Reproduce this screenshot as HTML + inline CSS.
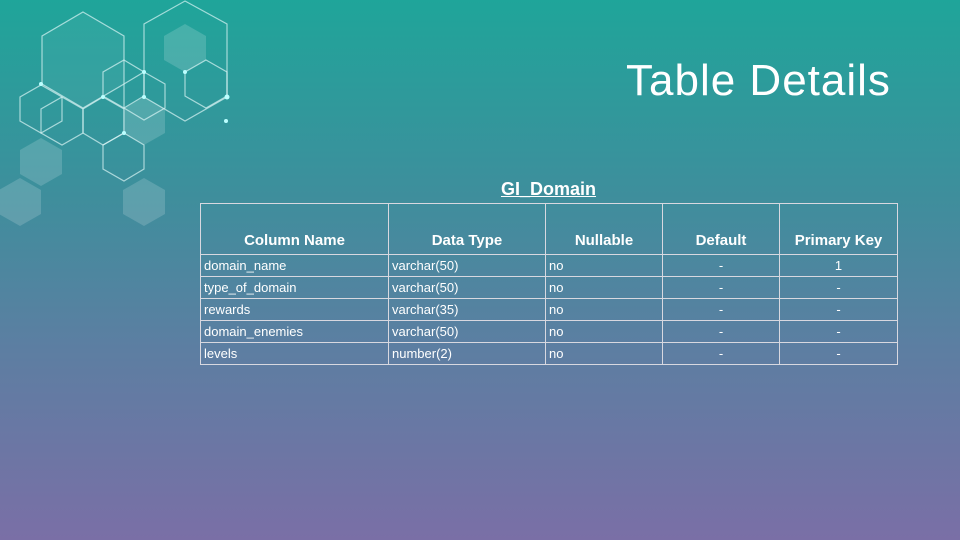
<!DOCTYPE html>
<html><head><style>
body{margin:0;width:960px;height:540px;overflow:hidden;font-family:"Liberation Sans",sans-serif;}
.bg{position:absolute;inset:0;background:linear-gradient(180deg,#1fa59a 0%,#3d8f9c 35%,#5d7ea2 65%,#7a6fa6 100%);}
h1{position:absolute;left:626px;top:56px;margin:0;font-weight:normal;font-size:44px;color:#fff;letter-spacing:1px;}
.cap{position:absolute;left:200px;width:697px;top:179px;text-align:center;color:#fff;font-weight:bold;font-size:18px;text-decoration:underline;}
table{position:absolute;left:200px;top:203px;border-collapse:collapse;color:#fff;font-size:13px;}
td,th{border:1px solid #d8d8e0;padding:0 3px;height:21px;line-height:21px;}
th{height:51px;vertical-align:bottom;font-size:15px;padding:0 3px 4px;line-height:18px;box-sizing:border-box}
td.c{text-align:center}
</style></head><body>
<div class="bg"></div>
<svg width="260" height="230" style="position:absolute;left:0;top:0">
<g fill="rgba(255,255,255,0.16)" stroke="none">
<polygon points="41,138 62,150 62,174 41,186 20,174 20,150"/>
<polygon points="20,178 41,190 41,214 20,226 -1,214 -1,190"/>
<polygon points="144,178 165,190 165,214 144,226 123,214 123,190"/>
<polygon points="144,97 165,109 165,133 144,145 123,133 123,109"/>
<polygon points="185,24 206,36 206,60 185,72 164,60 164,36"/>
<polygon points="83,12 124,36 124,84 83,108 42,84 42,36" fill="rgba(255,255,255,0.05)"/>
</g>
<g fill="none" stroke="rgba(220,245,245,0.7)" stroke-width="1.2">
<polygon points="83,12 124,36 124,84 83,108 42,84 42,36"/>
<polygon points="185,1 227,24 227,97 185,121 144,97 144,24"/>
<polygon points="41,85 62,97 62,121 41,133 20,121 20,97"/>
<polygon points="62,97 83,109 83,133 62,145 41,133 41,109"/>
<polygon points="103,97 124,109 124,133 103,145 83,133 83,109"/>
<polygon points="124,60 144,72 144,96 124,108 103,96 103,72"/>
<polygon points="206,60 227,72 227,96 206,108 185,96 185,72"/>
<polygon points="124,133 144,145 144,169 124,181 103,169 103,145"/>
<polygon points="144,72 165,84 165,108 144,120 124,108 124,84"/>
</g>
<g fill="#bff">
<circle cx="41" cy="84" r="2"/><circle cx="103" cy="97" r="2"/><circle cx="144" cy="72" r="2"/><circle cx="185" cy="72" r="2"/><circle cx="227" cy="97" r="2.5"/><circle cx="226" cy="121" r="2"/><circle cx="124" cy="133" r="2"/><circle cx="144" cy="97" r="2"/>
</g>
</svg>
<h1>Table Details</h1>
<div class="cap">GI_Domain</div>
<table>
<tr><th style="width:188px">Column Name</th><th style="width:157px">Data Type</th><th style="width:117px">Nullable</th><th style="width:117px">Default</th><th style="width:118px">Primary Key</th></tr>
<tr><td>domain_name</td><td>varchar(50)</td><td>no</td><td class="c">-</td><td class="c">1</td></tr>
<tr><td>type_of_domain</td><td>varchar(50)</td><td>no</td><td class="c">-</td><td class="c">-</td></tr>
<tr><td>rewards</td><td>varchar(35)</td><td>no</td><td class="c">-</td><td class="c">-</td></tr>
<tr><td>domain_enemies</td><td>varchar(50)</td><td>no</td><td class="c">-</td><td class="c">-</td></tr>
<tr><td>levels</td><td>number(2)</td><td>no</td><td class="c">-</td><td class="c">-</td></tr>
</table>
</body></html>
